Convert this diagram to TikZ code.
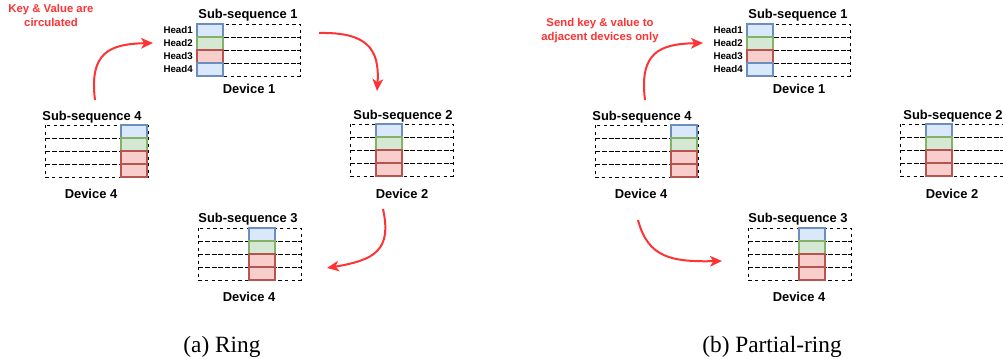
\documentclass[tikz,border=0pt]{standalone}
\usepackage{fontspec}
\setmainfont{Liberation Serif}
\setsansfont{Liberation Sans}
\usetikzlibrary{arrows.meta}

\definecolor{fillblue}{HTML}{DAE8FC}
\definecolor{lineblue}{HTML}{6C8EBF}
\definecolor{fillgreen}{HTML}{D5E8D4}
\definecolor{linegreen}{HTML}{82B366}
\definecolor{fillred}{HTML}{F8CECC}
\definecolor{linered}{HTML}{B85450}
\definecolor{arrowred}{HTML}{FF3333}

% one sub-sequence: #1,#2 top left, #3 column offset, #4 head colours
\newcommand{\subseq}[4]{%
  \foreach \r in {0,...,3}
    \draw[row] (#1,#2+13*\r) rectangle ++(103,13);
  \foreach \c [count=\r from 0] in {#4}
    \draw[cell=\c] (#1+#3,#2+13*\r) rectangle ++(26,13);
}

\begin{document}
\begin{tikzpicture}[x=0.75pt, y=-0.75pt,
  row/.style={dash pattern=on 2.6pt off 2.4pt, line width=0.7pt},
  cell/.style={fill=fill#1, draw=line#1, line width=0.8pt},
  lbl/.style={font=\sffamily\bfseries\fontsize{9.7}{11}\selectfont, inner sep=0pt},
  head/.style={font=\sffamily\bfseries\fontsize{7.3}{8}\selectfont, anchor=east, inner sep=0pt},
  note/.style={text=arrowred, align=center, inner sep=0pt,
    font=\sffamily\bfseries\fontsize{8.5}{10.5}\selectfont},
  flow/.style={draw=arrowred, line width=1.5pt, -{Stealth[length=9pt,width=8pt,inset=2.5pt]}},
  subcap/.style={font=\fontsize{17.5}{20}\selectfont, inner sep=0pt}]
\useasboundingbox (0,0) rectangle (1003,358);

% both panels share the same four devices
\foreach \p/\dx in {a/0, b/550} {
  \begin{scope}[shift={(\dx,0)}]
    \subseq{197}{24}{0}{blue,green,red,blue}
    \foreach \h [count=\r from 0] in {Head1,Head2,Head3,Head4}
      \node[head] at (193,30.5+13*\r) {\h};
    \node[lbl] (\p sub1) at (248,15) {Sub-sequence 1};
    \node[lbl] (\p dev1) at (249,89) {Device 1};

    \subseq{350}{124}{26}{blue,green,red,red}
    \node[lbl] (\p sub2) at (403,116) {Sub-sequence 2};
    \node[lbl] (\p dev2) at (402,194) {Device 2};

    \subseq{198}{228}{51}{blue,green,red,red}
    \node[lbl] (\p sub3) at (248,219) {Sub-sequence 3};
    \node[lbl] (\p dev3) at (249,297) {Device 4};

    \subseq{45}{125}{76}{blue,green,red,red}
    \node[lbl] (\p sub4) at (92,117) {Sub-sequence 4};
    \node[lbl] (\p dev4) at (91,194) {Device 4};
  \end{scope}
}

% (a) ring
\node[note] (anote) at (51,15) {Key \& Value are\\circulated};
\coordinate (a41) at (95,100);
\coordinate (a14) at (153,43);
\coordinate (a12) at (319,33);
\coordinate (a21) at (377,91);
\coordinate (a23) at (383,209);
\coordinate (a32) at (327,268);
\draw[flow] (a41) .. controls (89,52) and (110,44) .. (a14);
\draw[flow] (a12) .. controls (366,32) and (380,48) .. (a21);
\draw[flow] (a23) .. controls (392,250) and (375,260) .. (a32);
\node[subcap] (acap) at (222,347) {(a) Ring};

% (b) partial ring
\node[note] (bnote) at (600,31) {Send key \& value to\\adjacent devices only};
\coordinate (b41) at (645,100);
\coordinate (b14) at (703,43);
\coordinate (b43) at (638,220);
\coordinate (b34) at (722,261);
\draw[flow] (b41) .. controls (639,52) and (660,44) .. (b14);
\draw[flow] (b43) .. controls (648,258) and (672,262) .. (b34);
\node[subcap] (bcap) at (772,347) {(b) Partial-ring};
\end{tikzpicture}
\end{document}
